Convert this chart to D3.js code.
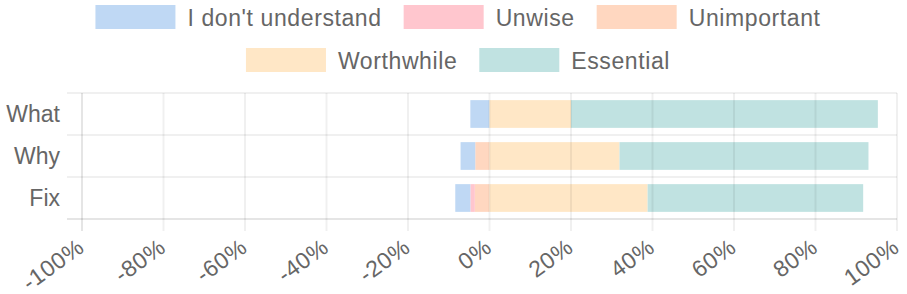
<!DOCTYPE html>
<html>
<head>
<meta charset="utf-8">
<script src="https://cdn.jsdelivr.net/npm/d3@7/dist/d3.min.js"></script>
<style>
  body { margin: 0; background: #fff; }
  text { font-family: "Liberation Sans", Arial, sans-serif; fill: #666; }
</style>
</head>
<body>
<div id="myplot"></div>
<script>
var categories = ["What", "Why", "Fix"];
var seriesNames = ["I don't understand", "Unwise", "Unimportant", "Worthwhile", "Essential"];
var seriesColors = ["#bfd8f4", "#ffc6ce", "#ffd7c0", "#ffe7c6", "#c0e2e1"];
// percent of answers, negative side first
var dontUnderstand = [4.7, 3.6, 3.7];
var unwise = [0, 0, 1.1];
var unimportant = [0, 3.5, 3.6];
var worthwhile = [20.0, 31.9, 38.8];
var essential = [75.3, 61.1, 52.9];
var tickValues = [-100, -80, -60, -40, -20, 0, 20, 40, 60, 80, 100];

var svg = d3.select('div#myplot')
  .append('svg')
  .attr('width', 907)
  .attr('height', 294);

var x = d3.scaleLinear().domain([-100, 100]).range([82, 897]);
var y = d3.scaleBand().domain(categories).range([93, 219]);

// legend
var legendRows = [[0, 1, 2], [3, 4]];
var legendY = [5, 48];
var tmp = svg.append("text").attr("font-size", 23).attr("letter-spacing", "0.6px");
legendRows.forEach(function (row, r) {
  var widths = row.map(function (i) {
    tmp.text(seriesNames[i]);
    return 80 + 12 + tmp.node().getComputedTextLength();
  });
  var total = d3.sum(widths) + 22 * (row.length - 1);
  var lx = (907 - total) / 2 + 4.5;
  row.forEach(function (i, k) {
    svg.append("rect")
      .attr("x", lx).attr("y", legendY[r])
      .attr("width", 80).attr("height", 24)
      .attr("fill", seriesColors[i]);
    svg.append("text")
      .attr("x", lx + 92).attr("y", legendY[r] + 21)
      .attr("font-size", 23)
      .attr("letter-spacing", "0.6px")
      .text(seriesNames[i]);
    lx += widths[k] + 22;
  });
});
tmp.remove();

// bars
var bandH = y.bandwidth();
var barH = bandH * 0.66;
var bars = svg.append("g").attr("id", "bars");
categories.forEach(function (c, i) {
  var yy = y(c) + (bandH - barH) / 2;
  // negative side: stacked leftwards from 0
  var neg = [[2, unimportant[i]], [1, unwise[i]], [0, dontUnderstand[i]]];
  var acc = 0;
  neg.forEach(function (d) {
    if (d[1] <= 0) return;
    bars.append("rect")
      .attr("x", x(-acc - d[1])).attr("y", yy)
      .attr("width", x(-acc) - x(-acc - d[1])).attr("height", barH)
      .attr("fill", seriesColors[d[0]]);
    acc += d[1];
  });
  var pos = [[3, worthwhile[i]], [4, essential[i]]];
  acc = 0;
  pos.forEach(function (d) {
    bars.append("rect")
      .attr("x", x(acc)).attr("y", yy)
      .attr("width", x(acc + d[1]) - x(acc)).attr("height", barH)
      .attr("fill", seriesColors[d[0]]);
    acc += d[1];
  });
});

// grid
var grid = svg.append("g").attr("id", "grid");
tickValues.forEach(function (t) {
  grid.append("line")
    .attr("x1", x(t)).attr("x2", x(t))
    .attr("y1", 93).attr("y2", 231)
    .attr("stroke", t == -100 ? "rgba(0,0,0,0.1)" : "rgba(0,0,0,0.06)")
    .attr("stroke-width", 2);
});
var hl = categories.map(function (c) { return y(c); }).concat([219]);
hl.forEach(function (v, i) {
  grid.append("line")
    .attr("x1", 67).attr("x2", 897)
    .attr("y1", v).attr("y2", v)
    .attr("stroke", i == hl.length - 1 ? "rgba(0,0,0,0.1)" : "rgba(0,0,0,0.06)")
    .attr("stroke-width", 2);
});

// y labels
svg.append("g").selectAll("text")
  .data(categories)
  .enter()
  .append("text")
  .attr("x", 60)
  .attr("y", function (d) { return y(d) + bandH / 2 + 8; })
  .attr("text-anchor", "end")
  .attr("font-size", 23)
  .text(function (d) { return d; });

// x labels, rotated
svg.append("g").selectAll("text")
  .data(tickValues)
  .enter()
  .append("text")
  .attr("transform", function (d) { return "translate(" + (x(d) - 6) + ",237) rotate(-36)"; })
  .attr("dy", "0.72em")
  .attr("text-anchor", "end")
  .attr("font-size", 23)
  .attr("letter-spacing", "0.6px")
  .text(function (d) { return d + "%"; });
</script>
</body>
</html>
